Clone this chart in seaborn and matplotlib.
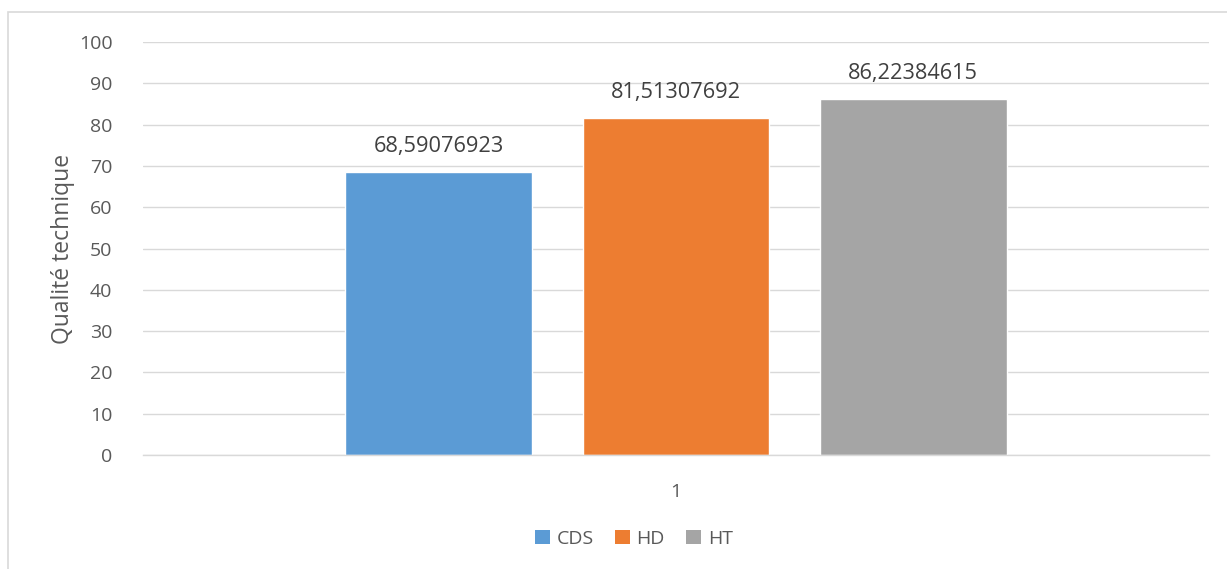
import matplotlib
matplotlib.use("Agg")
import matplotlib.pyplot as plt
from matplotlib.patches import Rectangle, Patch
import seaborn as sns
import pandas as pd

categories = ["1", "1", "1"]
series = ["CDS", "HD", "HT"]
values = [68.59076923, 81.51307692, 86.22384615]
colors = ["#5B9BD5", "#ED7D31", "#A5A5A5"]
yticks = [0, 10, 20, 30, 40, 50, 60, 70, 80, 90, 100]

df = pd.DataFrame({"cat": categories, "serie": series, "val": values})

sns.set_style("white")
plt.rcParams["font.family"] = ["Open Sans", "DejaVu Sans"]
text_color = "#595959"
grid_color = "#D9D9D9"

W, H = 1227, 569
fig = plt.figure(figsize=(W / 100, H / 100), dpi=100)
ax = fig.add_axes([143 / W, 1 - 455 / H, (1209 - 143) / W, (455 - 42) / H])

sns.barplot(data=df, x="cat", y="val", hue="serie", palette=colors,
            width=0.667, gap=0.211, ax=ax, legend=False, saturation=1,
            errorbar=None)

ax.set_xlim(-0.5, 0.5)
ax.set_ylim(0, 100)
ax.set_yticks(yticks)
ax.set_yticklabels([str(t) for t in yticks], fontsize=14, color=text_color)
ax.tick_params(axis="x", labelsize=14, colors=text_color, length=0, pad=20)
ax.tick_params(axis="y", length=0, pad=22)
ax.set_xlabel("")
ax.set_ylabel("Qualité technique", fontsize=16.5, color=text_color, labelpad=2.5)
ax.yaxis.grid(True, color=grid_color, linewidth=1)
ax.set_axisbelow(True)
for side in ["top", "right", "left"]:
    ax.spines[side].set_visible(False)
ax.spines["bottom"].set_color(grid_color)
ax.spines["bottom"].set_linewidth(1)

# value labels above each bar, French decimal comma
for patch, v in zip(ax.patches, values):
    cx = patch.get_x() + patch.get_width() / 2
    ax.annotate(f"{v:.8f}".replace(".", ","), (cx, v), xytext=(0, 18.5),
                textcoords="offset points", ha="center", va="center",
                fontsize=15.7, color="#404040")

handles = [Patch(facecolor=c, edgecolor="none") for c in colors]
fig.legend(handles, series, loc="center", bbox_to_anchor=(634 / W, 1 - 539 / H),
           ncol=3, frameon=False, fontsize=14, handlelength=0.75,
           handleheight=0.75, handletextpad=0.35, columnspacing=1.1,
           labelcolor=text_color)

# chart area border
fig.patches.append(Rectangle((8 / W, -0.1), 1.2, 1 - 12 / H + 0.1,
                             transform=fig.transFigure, fill=False,
                             edgecolor=grid_color, linewidth=1.2))

fig.savefig("out.png", dpi=100, facecolor="white")
